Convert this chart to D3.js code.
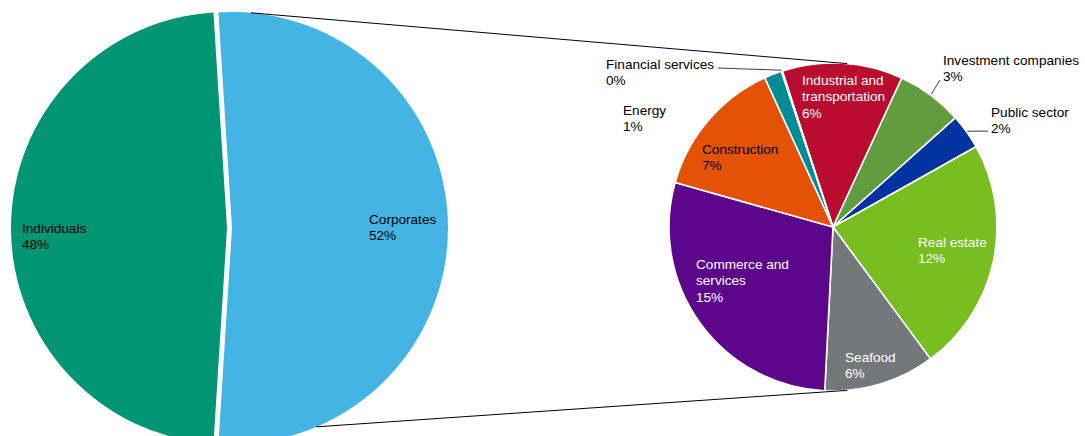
<!DOCTYPE html>
<html>
<head>
<meta charset="utf-8">
<script src="https://cdn.jsdelivr.net/npm/d3@7"></script>
<style>
  body { margin: 0; background: #fff; }
  svg text { font-family: "Liberation Sans", Arial, sans-serif; font-size: 13.6px; }
</style>
</head>
<body>
<div id="chart"></div>
<script>
// data
var splitNames = ['Individuals', 'Corporates'];
var splitValues = [48, 52];
var splitColors = ['#009673', '#43b4e4'];

var sectorNames = ['Industrial and transportation', 'Investment companies', 'Public sector',
  'Real estate', 'Seafood', 'Commerce and services', 'Construction', 'Energy', 'Financial services'];
var sectorValues = [6.2, 3.4, 1.8, 12.0, 5.7, 14.9, 7.2, 0.9, 0.05];
var sectorColors = ['#ba0c2f', '#629c3f', '#0033a0', '#78be20', '#75787b',
  '#5c068c', '#e35205', '#008c95', '#3d4543'];

// label layout (text lines, position, colour, leader end)
var labelLayout = {
  'Individuals':  { lines: ['Individuals'], x: 22, y: 228, fill: '#000' },
  'Corporates':   { lines: ['Corporates'], x: 369, y: 219, fill: '#000' },
  'Industrial and transportation': { lines: ['Industrial and', 'transportation'], x: 802, y: 80, fill: '#fff' },
  'Investment companies': { lines: ['Investment companies'], x: 943, y: 60, fill: '#000', leader: [940, 80] },
  'Public sector': { lines: ['Public sector'], x: 991, y: 112, fill: '#000', leader: [988, 132], flat: true },
  'Real estate':  { lines: ['Real estate'], x: 918, y: 242, fill: '#fff' },
  'Seafood':      { lines: ['Seafood'], x: 845, y: 357, fill: '#fff' },
  'Commerce and services': { lines: ['Commerce and', 'services'], x: 696, y: 264, fill: '#fff' },
  'Construction': { lines: ['Construction'], x: 702, y: 149, fill: '#000' },
  'Energy':       { lines: ['Energy'], x: 623, y: 110, fill: '#000' },
  'Financial services': { lines: ['Financial services'], x: 606, y: 64, fill: '#000', leader: [718, 68] }
};

var width = 1085, height = 436;
var deg = Math.PI / 180;

var svg = d3.select('#chart').append('svg')
  .attr('width', width).attr('height', height);

var total = d3.sum(splitValues);

// left pie, corporates centred on the right side and pulled out a bit
var leftR = 216, leftCx = 227, leftCy = 228, explode = 5;
var corpShare = splitValues[1] / total * 360;
var leftPie = d3.pie().sort(null)
  .startAngle((90 + corpShare / 2) * deg)
  .endAngle((90 + corpShare / 2 + 360) * deg);
var leftArc = d3.arc().innerRadius(0).outerRadius(leftR);
var leftData = leftPie(splitValues);

svg.append('g').selectAll('path')
  .data(leftData)
  .enter()
  .append('path')
  .attr('d', leftArc)
  .attr('transform', function(d, i) { return 'translate(' + (leftCx + (i === 1 ? explode : 0)) + ',' + leftCy + ')'; })
  .attr('fill', function(d, i) { return splitColors[i]; });

// right pie
var rightR = 164, rightCx = 833, rightCy = 227;
var rightPie = d3.pie().sort(null)
  .startAngle(-18 * deg)
  .endAngle(342 * deg);
var rightArc = d3.arc().innerRadius(0).outerRadius(rightR);
var rightData = rightPie(sectorValues);

svg.append('g').attr('transform', 'translate(' + rightCx + ',' + rightCy + ')')
  .selectAll('path')
  .data(rightData)
  .enter()
  .append('path')
  .attr('d', rightArc)
  .attr('fill', function(d, i) { return sectorColors[i]; })
  .attr('stroke', '#fff')
  .attr('stroke-width', 1.6)
  .attr('stroke-linejoin', 'round');

// connector lines
function polar(cx, cy, r, a) {
  return [cx + r * Math.sin(a * deg), cy - r * Math.cos(a * deg)];
}
var topL = polar(leftCx + explode, leftCy, leftR, 5), topR = polar(rightCx, rightCy, rightR, 5);
var botL = polar(leftCx + explode, leftCy, leftR, 157), botR = polar(rightCx, rightCy, rightR, 175);
[[topL, topR], [botL, botR]].forEach(function(p) {
  svg.append('line')
    .attr('x1', p[0][0]).attr('y1', p[0][1])
    .attr('x2', p[1][0]).attr('y2', p[1][1])
    .attr('stroke', '#000').attr('stroke-width', 1);
});

// labels
function pct(v) { return Math.round(v / total * 100) + '%'; }

function drawLabel(name, value, arcD, cx, cy, r) {
  var L = labelLayout[name];
  var t = svg.append('text').attr('fill', L.fill);
  L.lines.concat([pct(value)]).forEach(function(line, k) {
    t.append('tspan').attr('x', L.x).attr('y', L.y + 4.8 + k * 16.5).text(line);
  });
  if (L.leader && arcD) {
    var mid = (arcD.startAngle + arcD.endAngle) / 2 / deg;
    var p = polar(cx, cy, r + 1, mid);
    svg.append('line')
      .attr('x1', p[0]).attr('y1', p[1])
      .attr('x2', L.leader[0]).attr('y2', L.flat ? p[1] : L.leader[1])
      .attr('stroke', '#404040').attr('stroke-width', 1);
  }
}

leftData.forEach(function(d, i) { drawLabel(splitNames[i], splitValues[i], null); });
rightData.forEach(function(d, i) { drawLabel(sectorNames[i], sectorValues[i], d, rightCx, rightCy, rightR); });
</script>
</body>
</html>
